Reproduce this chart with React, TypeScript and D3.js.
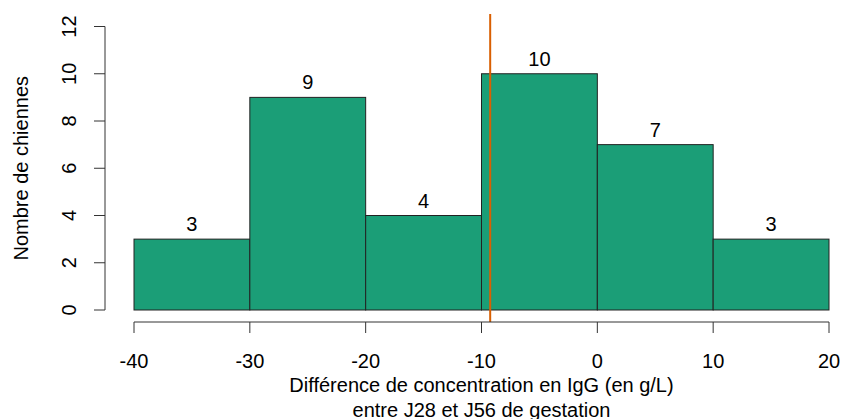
import React from "react";
import * as d3 from "d3";

const binStarts = [-40, -30, -20, -10, 0, 10];
const binWidth = 10;
const counts = [3, 9, 4, 10, 7, 3];
const xTicks = [-40, -30, -20, -10, 0, 10, 20];
const yTicks = [0, 2, 4, 6, 8, 10, 12];
const meanLine = -9.25;

export default function App() {
  const W = 843, H = 419;
  const x = d3.scaleLinear().domain([-40, 20]).range([134, 829]);
  const y = d3.scaleLinear().domain([0, 12]).range([310, 26.5]);
  const font = "'Liberation Sans', Arial, sans-serif";
  const fs = 20;
  const axisY = 322;
  const axisX = 105;
  return (
    <svg width={W} height={H} style={{ position: "absolute", left: 0, top: 0, background: "#fff" }} fontFamily={font}>
      {binStarts.map((b, i) => (
        <rect key={i} x={x(b)} y={y(counts[i])} width={x(b + binWidth) - x(b)} height={y(0) - y(counts[i])}
          fill="#1B9E77" stroke="#222" strokeWidth={1} />
      ))}
      {binStarts.map((b, i) => (
        <text key={"l" + i} x={x(b + binWidth / 2)} y={y(counts[i]) - 8} textAnchor="middle" fontSize={fs} fill="#000">
          {counts[i]}
        </text>
      ))}
      <line x1={x(meanLine)} x2={x(meanLine)} y1={14} y2={axisY} stroke="#D95F02" strokeWidth={2} />
      {/* x axis */}
      <line x1={x(-40)} x2={x(20)} y1={axisY} y2={axisY} stroke="#333" strokeWidth={1} />
      {xTicks.map((t) => (
        <g key={t}>
          <line x1={x(t)} x2={x(t)} y1={axisY} y2={axisY + 11} stroke="#333" />
          <text x={x(t)} y={368} textAnchor="middle" fontSize={fs} fill="#000">{t}</text>
        </g>
      ))}
      <text x={x(-10)} y={392} textAnchor="middle" fontSize={fs} fill="#000">Différence de concentration en IgG (en g/L)</text>
      <text x={x(-10)} y={417} textAnchor="middle" fontSize={fs} fill="#000">entre J28 et J56 de gestation</text>
      {/* y axis */}
      <line x1={axisX} x2={axisX} y1={y(0)} y2={y(12)} stroke="#333" />
      {yTicks.map((t) => (
        <g key={t}>
          <line x1={axisX - 11} x2={axisX} y1={y(t)} y2={y(t)} stroke="#333" />
          <text transform={`translate(76, ${y(t)}) rotate(-90)`} textAnchor="middle" fontSize={fs} fill="#000">{t}</text>
        </g>
      ))}
      <text transform={`translate(28, ${(y(0) + y(12)) / 2}) rotate(-90)`} textAnchor="middle" fontSize={fs} fill="#000">
        Nombre de chiennes
      </text>
    </svg>
  );
}
